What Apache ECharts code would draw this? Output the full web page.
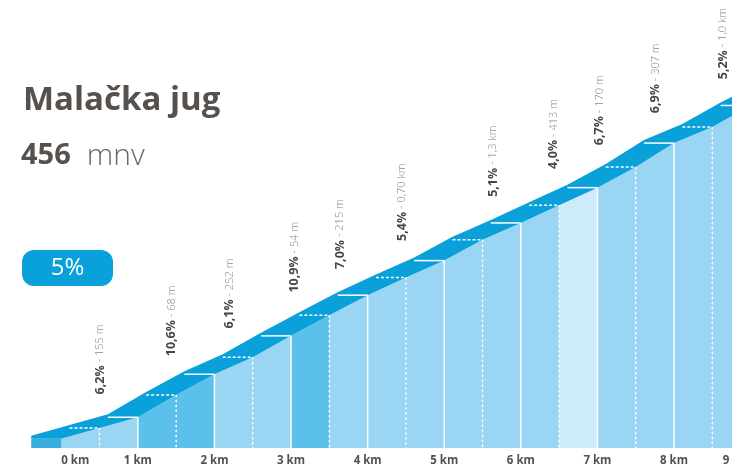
<!DOCTYPE html>
<html>
<head>
<meta charset="utf-8">
<script src="https://cdn.jsdelivr.net/npm/echarts@6/dist/echarts.min.js"></script>
<style>
  html, body { margin: 0; padding: 0; background: #ffffff; }
  #chart { width: 732px; height: 465px; }
</style>
</head>
<body>
<div id="chart"></div>
<script>
// Climb summary
const climbName = 'Malačka jug';
const summitAltitude = 456;
const averageGrade = '5%';

// Elevation profile, sampled every 500 m (distance in km, elevation in m)
const distanceKm = [0, 0.5, 1, 1.5, 2, 2.5, 3, 3.5, 4, 4.5, 5, 5.5, 6, 6.5, 7, 7.5, 8, 8.5, 9, 9.2];
const elevationM = [12, 26, 40, 69, 96, 118, 146, 173, 199, 222, 244, 271, 293, 316, 339, 366, 397, 418, 446, 456];

// Difficulty class of each 500 m segment (0 easy, 1 moderate, 2 hard)
const segmentClass = [1, 1, 2, 2, 1, 1, 2, 1, 1, 1, 1, 1, 1, 0, 1, 1, 1, 1, 1];

// Distance ticks along the bottom
const kmTicks = [0, 1, 2, 3, 4, 5, 6, 7, 8, 9];

// Notable sections: position, gradient and length
const sectionKm = [0.51, 1.44, 2.2, 3.05, 3.64, 4.45, 5.64, 6.43, 7.03, 7.76, 8.64];
const sectionGrade = ['6,2%', '10,6%', '6,1%', '10,9%', '7,0%', '5,4%', '5,1%', '4,0%', '6,7%', '6,9%', '5,2%'];
const sectionLength = ['155 m', '68 m', '252 m', '54 m', '215 m', '0,70 km', '1,3 km', '413 m', '170 m', '307 m', '1,0 km'];

// ---- drawing ----
const DEPTH_X = -30;          // horizontal depth of the ribbon
const DEPTH_Y = -3;
const SHADES = ['#cdebfa', '#9ad6f3', '#5bc0ea'];
const SURFACE = '#0aa0d9';
const SIDE = '#38abdf';
const TEXT_DARK = '#57514d';
const FONT = '"Open Sans", sans-serif';

function frontPoints(api) {
  return distanceKm.map((d, i) => api.coord([d, elevationM[i]]));
}

// pixel y of the front edge at pixel x
function frontYAt(pts, x) {
  if (x <= pts[0][0]) return pts[0][1];
  for (let i = 1; i < pts.length; i++) {
    if (x <= pts[i][0]) {
      const t = (x - pts[i - 1][0]) / (pts[i][0] - pts[i - 1][0]);
      return pts[i - 1][1] + t * (pts[i][1] - pts[i - 1][1]);
    }
  }
  return pts[pts.length - 1][1];
}

const chart = echarts.init(document.getElementById('chart'), null, { renderer: 'canvas' });

// the profile runs on past the right edge of the view, so the axis stops short of the last point
const option = {
  animation: false,
  grid: { left: 30.6, right: 0, bottom: 17, height: 430.1 },
  xAxis: { type: 'value', min: -0.4, max: 8.757, show: false },
  yAxis: { type: 'value', min: 0, max: 560, show: false },
  graphic: [
    {
      type: 'text', left: 23, top: 84,
      style: { text: climbName, font: 'bold 33px ' + FONT, fill: TEXT_DARK }
    },
    {
      type: 'text', left: 21, top: 141,
      style: {
        text: '{n|' + summitAltitude + '}{s| }{u|mnv}',
        rich: {
          n: { font: 'bold 29px ' + FONT, fill: TEXT_DARK },
          s: { font: '29px ' + FONT, width: 16 },
          u: { font: '300 30px ' + FONT, fill: '#6c6662' }
        }
      }
    },
    {
      type: 'group', left: 22, top: 250,
      children: [
        { type: 'rect', shape: { x: 0, y: 0, width: 91, height: 36, r: 12 }, style: { fill: SURFACE } },
        {
          type: 'text', x: 45.5, y: 18.5,
          style: { text: averageGrade, font: '500 24px ' + FONT, fill: '#ffffff', align: 'center', verticalAlign: 'middle' }
        }
      ]
    }
  ],
  series: [
    // front faces, one per 500 m segment
    {
      type: 'custom',
      silent: true,
      clip: false,
      data: segmentClass.map((c, i) => [i]),
      renderItem: function (params, api) {
        const i = api.value(0);
        const a = api.coord([distanceKm[i], elevationM[i]]);
        const b = api.coord([distanceKm[i + 1], elevationM[i + 1]]);
        const base = api.coord([0, 0])[1];
        return {
          type: 'polygon',
          shape: { points: [a, b, [b[0], base], [a[0], base]] },
          style: { fill: SHADES[segmentClass[i]] }
        };
      }
    },
    // top surface, start cap and segment edges
    {
      type: 'custom',
      silent: true,
      clip: false,
      data: [[0]],
      renderItem: function (params, api) {
        const pts = frontPoints(api);
        const base = api.coord([0, 0])[1];
        const first = pts[0];
        const back = pts.map(p => [p[0] + DEPTH_X, p[1] + DEPTH_Y]);
        const children = [];
        children.push({
          type: 'polygon',
          shape: { points: [[first[0] + DEPTH_X, first[1]], [first[0], first[1]], [first[0], base], [first[0] + DEPTH_X, base]] },
          style: { fill: SIDE }
        });
        children.push({
          type: 'polygon',
          shape: { points: back.concat(pts.slice().reverse()).concat([[first[0] + DEPTH_X, first[1]]]) },
          style: { fill: SURFACE }
        });
        for (let i = 1; i < distanceKm.length; i++) {
          const d = distanceKm[i];
          if (Math.abs(d * 2 - Math.round(d * 2)) > 1e-6) continue;
          const whole = Math.abs(d - Math.round(d)) < 1e-6;
          const p = pts[i];
          children.push({
            type: 'line',
            shape: { x1: p[0], y1: p[1], x2: p[0], y2: base },
            style: { stroke: '#ffffff', lineWidth: 1.5, lineDash: whole ? null : [2, 3] }
          });
          children.push({
            type: 'line',
            shape: { x1: p[0] + DEPTH_X, y1: p[1], x2: p[0], y2: p[1] },
            style: { stroke: '#ffffff', lineWidth: 1.5, lineDash: whole ? null : [3, 2] }
          });
        }
        return { type: 'group', children: children };
      }
    },
    // section labels above the profile
    {
      type: 'custom',
      silent: true,
      clip: false,
      data: sectionKm.map((k, i) => [k, i]),
      renderItem: function (params, api) {
        const j = api.value(1);
        const pts = frontPoints(api);
        const x = api.coord([sectionKm[j], 0])[0];
        const top = frontYAt(pts, x - DEPTH_X) + DEPTH_Y;
        return {
          type: 'text',
          x: x, y: top - 22,
          rotation: Math.PI / 2,
          style: {
            text: '{g|' + sectionGrade[j] + '}{l| - ' + sectionLength[j] + '}',
            rich: {
              g: { font: 'bold 12.5px ' + FONT, fill: '#4a4541' },
              l: { font: '300 11px ' + FONT, fill: '#8c8783' }
            },
            align: 'left',
            verticalAlign: 'middle'
          }
        };
      }
    },
    // distance labels
    {
      type: 'custom',
      silent: true,
      clip: false,
      data: kmTicks.map(k => [k]),
      renderItem: function (params, api) {
        const k = api.value(0);
        const p = api.coord([k, 0]);
        const idx = params.dataIndex;
        return {
          type: 'text',
          x: p[0], y: p[1] + 13,
          style: {
            text: k + ' km',
            font: 'bold 11.5px ' + FONT,
            fill: '#55504c',
            align: idx === 0 ? 'left' : (idx === kmTicks.length - 1 ? 'right' : 'center'),
            verticalAlign: 'middle'
          }
        };
      }
    }
  ]
};

chart.setOption(option);
</script>
</body>
</html>
